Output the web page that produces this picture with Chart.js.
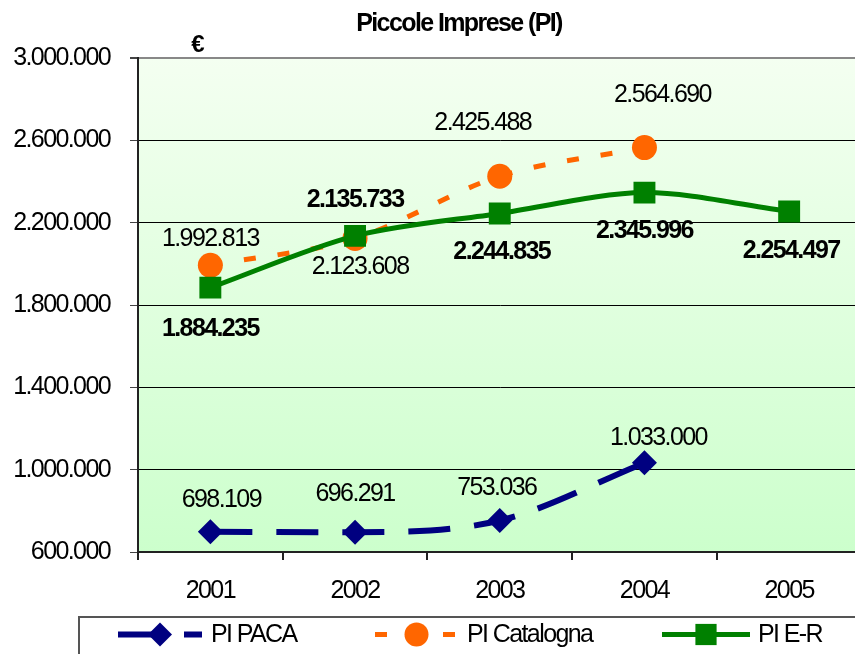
<!DOCTYPE html>
<html>
<head>
<meta charset="utf-8">
<script src="https://cdn.jsdelivr.net/npm/chart.js@4"></script>
<style>
  body { margin: 0; background: #fff; overflow: hidden; }
</style>
</head>
<body>
<canvas id="chart" width="877" height="654"></canvas>
<script>
const years = ['2001', '2002', '2003', '2004', '2005'];
const paca = [698109, 696291, 753036, 1033000, null];
const catalogna = [1992813, 2123608, 2425488, 2564690, null];
const emiliaRomagna = [1884235, 2135733, 2244835, 2345996, 2254497];
const yTicks = [600000, 1000000, 1400000, 1800000, 2200000, 2600000, 3000000];

const FAMILY = '"Liberation Sans", Arial, sans-serif';
const SIZE = 25;
const TIGHT = '-1.6px'; // squeeze Liberation Sans towards the narrow face of the original

const fmt = v => String(v).replace(/\B(?=(\d{3})+(?!\d))/g, '.');

const tightText = {
    id: 'tightText',
    beforeUpdate(chart) { chart.ctx.letterSpacing = TIGHT; },
    beforeDraw(chart) { chart.ctx.letterSpacing = TIGHT; }
};

const bgPlugin = {
    id: 'plotBg',
    beforeDraw(chart) {
        const { ctx, chartArea: a } = chart;
        const g = ctx.createLinearGradient(0, a.top, 0, a.bottom);
        g.addColorStop(0, '#f4fff1');
        g.addColorStop(1, '#ccffcc');
        ctx.save();
        ctx.fillStyle = g;
        ctx.fillRect(a.left, a.top, a.right - a.left, a.bottom - a.top);
        ctx.restore();
    }
};

const labelPlugin = {
    id: 'pointLabels',
    afterDatasetsDraw(chart) {
        const ctx = chart.ctx;
        ctx.save();
        ctx.textAlign = 'center';
        ctx.textBaseline = 'middle';
        ctx.fillStyle = '#000';
        chart.data.datasets.forEach((ds, i) => {
            const meta = chart.getDatasetMeta(i);
            ctx.font = `${ds.labelBold ? 'bold ' : ''}${SIZE}px ${FAMILY}`;
            meta.data.forEach((pt, j) => {
                if (ds.data[j] == null) return;
                const [dx, dy] = ds.labelOffsets[j];
                ctx.fillText(fmt(ds.data[j]), pt.x + dx, pt.y + dy);
            });
        });
        ctx.restore();
    }
};

// title, euro sign and the boxed legend at the bottom
const decoPlugin = {
    id: 'deco',
    afterDraw(chart) {
        const ctx = chart.ctx;
        ctx.save();
        ctx.fillStyle = '#000';
        ctx.textBaseline = 'middle';
        ctx.textAlign = 'center';
        ctx.font = `bold ${SIZE}px ${FAMILY}`;
        ctx.fillText('Piccole Imprese (PI)', 459, 24);
        ctx.font = `bold 24px ${FAMILY}`;
        ctx.fillText('€', 197, 45);

        ctx.strokeStyle = '#555';
        ctx.lineWidth = 2;
        ctx.strokeRect(79, 617, 800, 60);

        const y = 634.5;
        const items = [
            { text: 'PI PACA', color: '#000080', dash: [42, 24], from: 118, to: 202, style: 'rectRot', r: 12, tx: 211, lw: 6 },
            { text: 'PI Catalogna', color: '#ff6600', dash: [12, 22], from: 375, to: 458, style: 'circle', r: 12, tx: 467, lw: 5 },
            { text: 'PI E-R', color: '#008000', dash: [], from: 662, to: 750, style: 'rect', r: 15, tx: 758, lw: 5 }
        ];
        items.forEach(it => {
            ctx.strokeStyle = it.color;
            ctx.lineWidth = it.lw;
            ctx.setLineDash(it.dash);
            ctx.beginPath();
            ctx.moveTo(it.from, y);
            ctx.lineTo(it.to, y);
            ctx.stroke();
            ctx.setLineDash([]);
            ctx.fillStyle = it.color;
            Chart.helpers.drawPoint(ctx, { pointStyle: it.style, radius: it.r, borderWidth: 0 }, (it.from + it.to) / 2, y);
            ctx.fillStyle = '#000';
            ctx.textAlign = 'left';
            ctx.font = `${SIZE}px ${FAMILY}`;
            ctx.fillText(it.text, it.tx, y + 1);
        });
        ctx.restore();
    }
};

new Chart(document.getElementById('chart'), {
    type: 'line',
    data: {
        labels: years,
        datasets: [
            {
                label: 'PI PACA',
                data: paca,
                borderColor: '#000080',
                backgroundColor: '#000080',
                borderWidth: 6,
                borderDash: [42, 24],
                pointStyle: 'rectRot',
                pointRadius: 12.5,
                pointBorderWidth: 0,
                cubicInterpolationMode: 'monotone',
                order: 2,
                labelOffsets: [[11, -32], [0, -38], [-3, -32], [14, -25]]
            },
            {
                label: 'PI Catalogna',
                data: catalogna,
                borderColor: '#ff6600',
                backgroundColor: '#ff6600',
                borderWidth: 5,
                borderDash: [12, 22],
                pointStyle: 'circle',
                pointRadius: 12.5,
                pointBorderWidth: 0,
                cubicInterpolationMode: 'monotone',
                order: 1,
                labelOffsets: [[0, -26], [5, 29], [-17, -53], [18, -52]]
            },
            {
                label: 'PI E-R',
                data: emiliaRomagna,
                borderColor: '#008000',
                backgroundColor: '#008000',
                borderWidth: 5,
                pointStyle: 'rect',
                pointRadius: 15.5,
                pointBorderWidth: 0,
                tension: 0.3,
                order: 0,
                labelBold: true,
                labelOffsets: [[0, 41], [0, -36], [2, 39], [0, 38], [2, 40]]
            }
        ]
    },
    options: {
        responsive: false,
        animation: false,
        layout: { padding: { top: 58, left: 0, right: 4, bottom: 52 } },
        plugins: { legend: { display: false }, tooltip: { enabled: false } },
        scales: {
            x: {
                offset: true,
                grid: { offset: true, drawOnChartArea: false, tickLength: 8, color: '#222', lineWidth: 2 },
                border: { color: '#222', width: 2 },
                ticks: { color: '#000', font: { family: FAMILY, size: SIZE }, padding: 16 },
                afterFit: s => { s.height = 50; }
            },
            y: {
                min: yTicks[0],
                max: yTicks[yTicks.length - 1],
                afterBuildTicks: s => { s.ticks = yTicks.map(v => ({ value: v })); },
                grid: {
                    color: c => c.tick && c.tick.value === 3000000 ? '#888' : '#000',
                    lineWidth: c => c.tick && c.tick.value === 3000000 ? 2 : 1,
                    tickLength: 8,
                    tickColor: '#444'
                },
                border: { color: '#222', width: 2 },
                ticks: { color: '#000', font: { family: FAMILY, size: SIZE }, padding: 20, callback: v => fmt(v) },
                afterFit: s => { s.width = 138; }
            }
        }
    },
    plugins: [tightText, bgPlugin, labelPlugin, decoPlugin]
});
</script>
</body>
</html>
